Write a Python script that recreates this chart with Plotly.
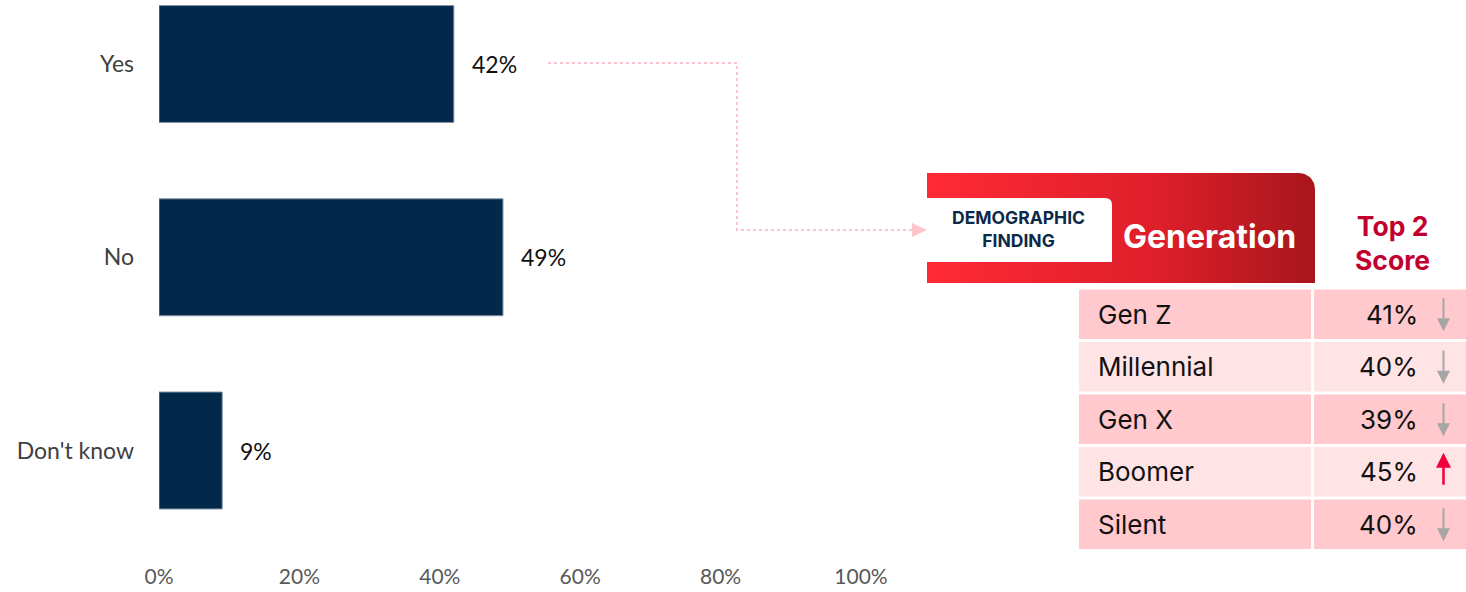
import numpy as np
import plotly.graph_objects as go

W, H = 1466, 592

# Survey answers (bar chart)
answers = ["Yes", "No", "Don't know"]
shares = [42, 49, 9]
x_ticks = [0, 20, 40, 60, 80, 100]

# Demographic breakdown (table)
generations = ["Gen Z", "Millennial", "Gen X", "Boomer", "Silent"]
top2_scores = [41, 40, 39, 45, 40]
directions = ["down", "down", "down", "up", "down"]

NAVY = "#03294A"
PINK_DARK = "#FFC9CE"
PINK_LIGHT = "#FFE4E6"
CRIMSON = "#C2002F"
ARROW_GREY = "#A6A6A6"
ARROW_RED = "#F2003C"
CONNECTOR = "#FFC3CD"

AXIS_FONT = "Lato"
TABLE_FONT = "Inter"


def fx(p):
    return p / W


def fy(p):
    return 1 - p / H


fig = go.Figure()

# Bars
fig.add_trace(go.Bar(
    y=answers, x=shares, orientation="h", width=0.605,
    marker=dict(color=NAVY, line=dict(color="#7F90A6", width=1)),
    hoverinfo="skip", showlegend=False,
))

annotations = []
for a, v in zip(answers, shares):
    annotations.append(dict(
        x=v, y=a, xref="x", yref="y", text=f"{v}%", showarrow=False,
        xanchor="left", yanchor="middle", xshift=16,
        font=dict(family=AXIS_FONT, size=23, color="#111111"),
    ))

# Header block with gradient fill (rounded top-right corner)
hx0, hx1, hy0, hy1, hr = 927, 1315, 173, 283, 16
t = np.linspace(-np.pi / 2, 0, 16)
arc_x = (hx1 - hr) + hr * np.cos(t)
arc_y = (hy0 + hr) + hr * np.sin(t)
head_x = [hx0, hx0] + list(arc_x) + [hx1, hx0]
head_y = [hy1, hy0] + list(arc_y) + [hy1, hy1]
fig.add_trace(go.Scatter(
    x=head_x, y=head_y, xaxis="x2", yaxis="y2", mode="lines",
    line=dict(width=0), fill="toself",
    fillgradient=dict(type="horizontal",
                      colorscale=[[0, "#FF2A36"], [0.6, "#DD1F2A"], [1, "#A8161C"]]),
    hoverinfo="skip", showlegend=False,
))

shapes = []

# White label tab inside header
wx0, wx1, wy0, wy1, wr = 927, 1112, 198, 262, 7
shapes.append(dict(
    type="path", xref="paper", yref="paper", layer="above",
    path=(f"M {fx(wx0)},{fy(wy1)} L {fx(wx0)},{fy(wy0)} L {fx(wx1 - wr)},{fy(wy0)} "
          f"Q {fx(wx1)},{fy(wy0)} {fx(wx1)},{fy(wy0 + wr)} L {fx(wx1)},{fy(wy1)} Z"),
    fillcolor="white", line=dict(width=0),
))

annotations += [
    dict(x=fx(1018), y=fy(229), xref="paper", yref="paper", showarrow=False,
         xanchor="center", yanchor="middle",
         text="<b>DEMOGRAPHIC</b><br><b>FINDING</b>", align="center",
         font=dict(family=TABLE_FONT, size=17.5, color="#0B2A4A")),
    dict(x=fx(1209), y=fy(236), xref="paper", yref="paper", showarrow=False,
         xanchor="center", yanchor="middle",
         text="<b>Generation</b>",
         font=dict(family=TABLE_FONT, size=32, color="white")),
    dict(x=fx(1392), y=fy(243), xref="paper", yref="paper", showarrow=False,
         xanchor="center", yanchor="middle",
         text="<b>Top 2</b><br><b>Score</b>", align="center",
         font=dict(family=TABLE_FONT, size=26.5, color=CRIMSON)),
]

# Dotted connector from the "Yes" bar to the header
cx0, cy0, cxm, cy1, cx1 = 548, 63, 737, 230, 912
shapes.append(dict(
    type="path", xref="paper", yref="paper", layer="above",
    path=(f"M {fx(cx0)},{fy(cy0)} L {fx(cxm)},{fy(cy0)} "
          f"L {fx(cxm)},{fy(cy1)} L {fx(cx1)},{fy(cy1)}"),
    line=dict(color=CONNECTOR, width=2, dash="dot"),
))
shapes.append(dict(
    type="path", xref="paper", yref="paper", layer="above",
    path=(f"M {fx(cx1)},{fy(cy1 - 7)} L {fx(cx1 + 15)},{fy(cy1)} "
          f"L {fx(cx1)},{fy(cy1 + 7)} Z"),
    fillcolor=CONNECTOR, line=dict(width=0),
))

# Table rows
row_top, pitch, row_h = 289.5, 52.5, 49.5
c1x0, c1x1, c2x0, c2x1 = 1079, 1311, 1314, 1466
for i, (g, s, d) in enumerate(zip(generations, top2_scores, directions)):
    y0 = row_top + i * pitch
    y1 = y0 + row_h
    cy = (y0 + y1) / 2
    fill = PINK_DARK if i % 2 == 0 else PINK_LIGHT
    for a0, a1 in ((c1x0, c1x1), (c2x0, c2x1)):
        shapes.append(dict(type="rect", xref="paper", yref="paper", layer="above",
                           x0=fx(a0), x1=fx(a1), y0=fy(y1), y1=fy(y0),
                           fillcolor=fill, line=dict(width=0)))
    annotations.append(dict(
        x=fx(1096), y=fy(cy), xref="paper", yref="paper", showarrow=False,
        xanchor="left", yanchor="middle", text=g,
        font=dict(family=TABLE_FONT, size=26, color="#111111")))
    annotations.append(dict(
        x=fx(1420), y=fy(cy), xref="paper", yref="paper", showarrow=False,
        xanchor="right", yanchor="middle", text=f"{s}%",
        font=dict(family=TABLE_FONT, size=26, color="#111111")))
    ax = 1443.5
    if d == "down":
        shapes.append(dict(type="line", xref="paper", yref="paper", layer="above",
                           x0=fx(ax), x1=fx(ax), y0=fy(cy - 16), y1=fy(cy + 6),
                           line=dict(color=ARROW_GREY, width=2)))
        shapes.append(dict(type="path", xref="paper", yref="paper", layer="above",
                           path=(f"M {fx(ax - 6.5)},{fy(cy + 4)} L {fx(ax + 6.5)},{fy(cy + 4)} "
                                 f"L {fx(ax)},{fy(cy + 17)} Z"),
                           fillcolor=ARROW_GREY, line=dict(width=0)))
    else:
        shapes.append(dict(type="line", xref="paper", yref="paper", layer="above",
                           x0=fx(ax), x1=fx(ax), y0=fy(cy - 6), y1=fy(cy + 13),
                           line=dict(color=ARROW_RED, width=2.5)))
        shapes.append(dict(type="path", xref="paper", yref="paper", layer="above",
                           path=(f"M {fx(ax - 7.5)},{fy(cy - 4)} L {fx(ax + 7.5)},{fy(cy - 4)} "
                                 f"L {fx(ax)},{fy(cy - 19)} Z"),
                           fillcolor=ARROW_RED, line=dict(width=0)))

plot_bottom = 556
band = 193.25
y_top = -64 / band
y_bottom = y_top + plot_bottom / band

fig.update_layout(
    width=W, height=H,
    margin=dict(l=0, r=0, t=0, b=0),
    paper_bgcolor="white", plot_bgcolor="rgba(0,0,0,0)",
    template="none",
    showlegend=False,
    xaxis=dict(domain=[fx(159), fx(861)], range=[0, 100], tickvals=x_ticks,
               ticktext=[f"{v}%" for v in x_ticks], showgrid=False, zeroline=False,
               showline=False, ticks="", ticklabelstandoff=6, automargin=False,
               fixedrange=True,
               tickfont=dict(family=AXIS_FONT, size=21, color="#595959")),
    yaxis=dict(domain=[1 - plot_bottom / H, 1], range=[y_bottom, y_top],
               type="category", categoryorder="array", categoryarray=answers,
               showgrid=False, zeroline=False, showline=False, ticks="",
               ticklabelstandoff=24, automargin=False, fixedrange=True,
               tickfont=dict(family=AXIS_FONT, size=23, color="#404040")),
    xaxis2=dict(domain=[0, 1], range=[0, W], visible=False, anchor="y2",
                fixedrange=True),
    yaxis2=dict(domain=[0, 1], range=[H, 0], visible=False, anchor="x2",
                fixedrange=True),
    shapes=shapes,
    annotations=annotations,
)

fig.write_html("out.html")
